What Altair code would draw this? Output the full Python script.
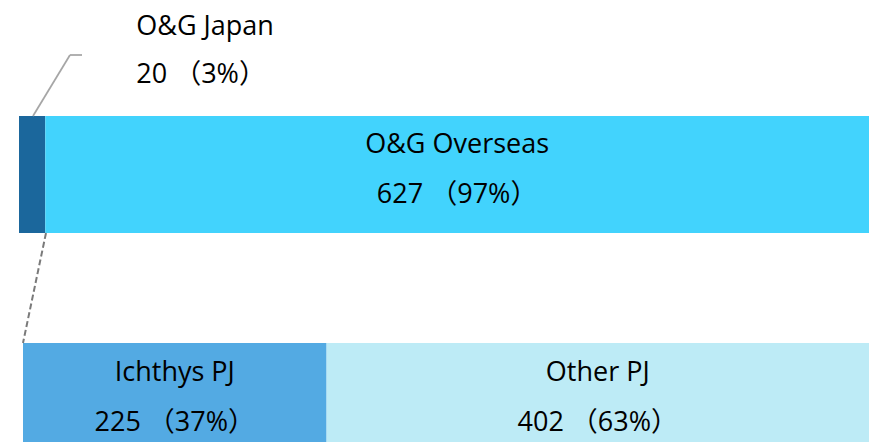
import altair as alt
import pandas as pd

# ---- data ----
top_cats = ["O&G Japan", "O&G Overseas"]
top_vals = [20, 627]
top_pcts = ["3%", "97%"]

bottom_cats = ["Ichthys PJ", "Other PJ"]
bottom_vals = [225, 402]
bottom_pcts = ["37%", "63%"]

all_cats = top_cats + bottom_cats
colors = ["#1b679c", "#42d3fd", "#53aae3", "#bdebf6"]


def build(row, cats, vals, pcts):
    rows = []
    start = 0
    for c, v, p in zip(cats, vals, pcts):
        rows.append({
            "row": row, "cat": c, "value": v,
            "start": start, "end": start + v, "mid": start + v / 2,
            "line2": f"{v} （{p}）",
        })
        start += v
    return pd.DataFrame(rows)


top_df = build("top", top_cats, top_vals, top_pcts)
bot_df = build("bottom", bottom_cats, bottom_vals, bottom_pcts)

FONT = "Open Sans, Noto Sans CJK JP, sans-serif"
FS = 27
W, H = 861, 434

xA = alt.Scale(domain=[0, sum(top_vals)], range=[11, W], nice=False, zero=False)
xB = alt.Scale(domain=[0, sum(bottom_vals)], range=[15, W], nice=False, zero=False)
yS = alt.Scale(domain=["top", "bottom"], range=[108, 452], paddingInner=0.4846, paddingOuter=0)
cS = alt.Scale(domain=all_cats, range=colors)

Y = alt.Y("row:N", scale=yS, axis=None)


def bars(df, xs):
    return alt.Chart(df).mark_bar().encode(
        x=alt.X("start:Q", scale=xs, axis=None),
        x2="end:Q",
        y=Y,
        color=alt.Color("cat:N", scale=cS, legend=None),
    )


def labels(df, xs, field, dy):
    return alt.Chart(df).mark_text(
        font=FONT, fontSize=FS, color="#000000", align="center", baseline="middle", dy=dy
    ).encode(
        x=alt.X("mid:Q", scale=xs, axis=None),
        y=Y,
        text=f"{field}:N",
    )


top_big = top_df[top_df["cat"] == "O&G Overseas"]
top_small = top_df[top_df["cat"] == "O&G Japan"]

callout1 = alt.Chart(top_small).mark_text(
    font=FONT, fontSize=FS, color="#000000", align="left", baseline="middle", dx=91, dy=-147
).encode(x=alt.X("end:Q", scale=xA, axis=None), y=Y, text="cat:N")
callout2 = alt.Chart(top_small).mark_text(
    font=FONT, fontSize=FS, color="#000000", align="left", baseline="middle", dx=91, dy=-99
).encode(x=alt.X("end:Q", scale=xA, axis=None), y=Y, text="line2:N")

dummy = pd.DataFrame({"k": [0]})
lead1 = alt.Chart(dummy).mark_rule(color="#a6a6a6", strokeWidth=1.75).encode(
    x=alt.value(25), y=alt.value(108), x2=alt.value(62), y2=alt.value(47))
lead2 = alt.Chart(dummy).mark_rule(color="#a6a6a6", strokeWidth=1.75).encode(
    x=alt.value(62), y=alt.value(47), x2=alt.value(74), y2=alt.value(47))
lead3 = alt.Chart(dummy).mark_rule(color="#7a7a7a", strokeWidth=2, strokeDash=[6, 3]).encode(
    x=alt.value(38), y=alt.value(225), x2=alt.value(15), y2=alt.value(335))

chart = alt.layer(
    bars(top_df, xA),
    labels(top_big, xA, "cat", -29),
    labels(top_big, xA, "line2", 21),
    bars(bot_df, xB),
    labels(bot_df, xB, "cat", -29),
    labels(bot_df, xB, "line2", 21),
    callout1, callout2, lead1, lead2, lead3,
).resolve_scale(x="independent").properties(
    width=W, height=H, padding=0,
    autosize=alt.AutoSizeParams(type="none"),
).configure_view(stroke=None)

chart.save("out.html", embed_options={"renderer": "svg", "actions": False})
